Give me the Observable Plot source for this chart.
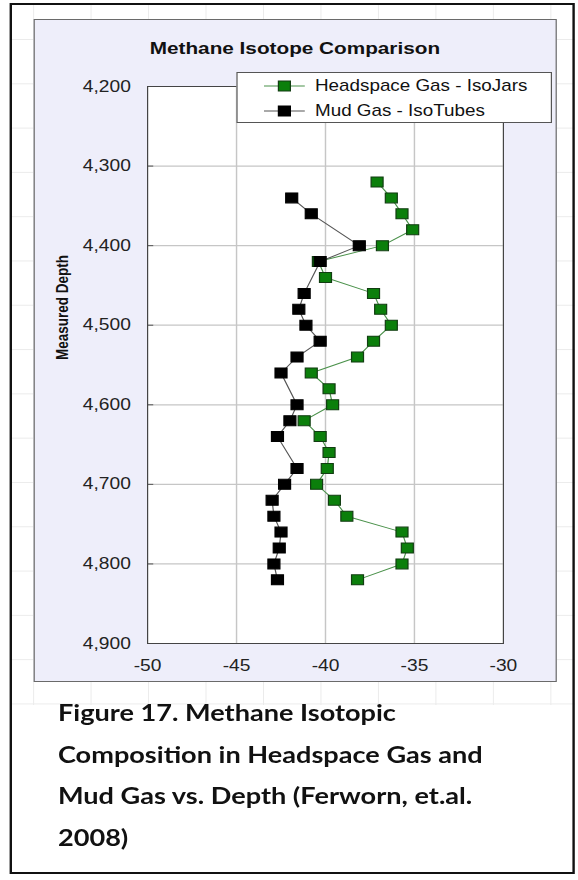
<!DOCTYPE html>
<html>
<head>
<meta charset="utf-8">
<script src="https://cdn.jsdelivr.net/npm/d3@7"></script>
<script src="https://cdn.jsdelivr.net/npm/@observablehq/plot@0.6"></script>
<style>
html, body { margin: 0; padding: 0; background: #fff; }
#page { position: absolute; left: 0; top: 0; width: 482px; height: 880px;
  transform: scaleX(1.2); transform-origin: 0 0;
  font-family: "Liberation Sans", Arial, sans-serif; }
#outer { position: absolute; left: 7.5px; top: 3px; width: 471px; height: 871px;
  border: 2px solid #111; box-sizing: border-box; }
#bggrid { position: absolute; left: 9.5px; top: 5px; width: 469px; height: 700px;
  background-image:
    linear-gradient(to bottom, #ebebeb 1px, transparent 1px),
    linear-gradient(to right, #ebebeb 1px, transparent 1px);
  background-size: 100% 44.3px, 47.9px 100%;
  background-position: 0 34px, 17.6px 0; }
#panel { position: absolute; left: 27.5px; top: 19px; width: 436.5px; height: 663px;
  background: #eeeefa; border: 1px solid #6a6a6a; box-sizing: border-box; }
#title { position: absolute; left: 27.5px; top: 40px; width: 436.5px; text-align: center;
  font-weight: bold; font-size: 17.3px; line-height: 16px; color: #111; }
#chart { position: absolute; left: 0; top: 0; }
#legend { position: absolute; left: 197px; top: 72px; width: 263px; height: 51px;
  background: #fff; border: 1px solid #555; box-sizing: border-box; }
#legend .row { position: absolute; left: 0; height: 20px; width: 100%; }
#legend .row svg { position: absolute; left: 21px; top: 0; }
#legend .row span { position: absolute; left: 64.5px; top: 2.3px; font-size: 15.7px; line-height: 15px;
  color: #111; white-space: nowrap; }
#caption { position: absolute; left: 48.3px; top: 692px; font-family: Lato, "Open Sans", sans-serif;
  font-weight: bold; font-size: 22.6px; line-height: 41.5px; color: #111; white-space: nowrap; }
</style>
</head>
<body>
<div id="page">
  <div id="bggrid"></div>
  <div id="outer"></div>
  <div id="panel"></div>
  <div id="title"></div>
  <div id="chart"></div>
  <div id="legend"></div>
  <div id="caption"></div>
</div>
<script>
// ---- data ----
const titleText = "Methane Isotope Comparison";
const yLabel = "Measured Depth";
const seriesNames = ["Headspace Gas - IsoJars", "Mud Gas - IsoTubes"];
const captionLines = [
  "Figure 17. Methane Isotopic",
  "Composition in Headspace Gas and",
  "Mud Gas vs. Depth (Ferworn, et.al.",
  "2008)"
];

const xTicks = [-50, -45, -40, -35, -30];
const yTicks = [4200, 4300, 4400, 4500, 4600, 4700, 4800, 4900];

const headDepth = [4320, 4340, 4360, 4380, 4400, 4420, 4440, 4460, 4480, 4500, 4520, 4540, 4560,
                   4580, 4600, 4620, 4640, 4660, 4680, 4700, 4720, 4740, 4760, 4780, 4800, 4820];
const headValue = [-37.1, -36.3, -35.7, -35.1, -36.8, -40.4, -40.0, -37.3, -36.9, -36.3, -37.3, -38.2, -40.8,
                   -39.8, -39.6, -41.2, -40.3, -39.8, -39.9, -40.5, -39.5, -38.8, -35.7, -35.4, -35.7, -38.2];

const mudDepth = [4340, 4360, 4400, 4420, 4460, 4480, 4500, 4520, 4540, 4560, 4600,
                  4620, 4640, 4680, 4700, 4720, 4740, 4760, 4780, 4800, 4820];
const mudValue = [-41.9, -40.8, -38.1, -40.3, -41.2, -41.5, -41.1, -40.3, -41.6, -42.5, -41.6,
                  -42.0, -42.7, -41.6, -42.3, -43.0, -42.9, -42.5, -42.6, -42.9, -42.7];

const colors = {
  headFill: "#0b7f0b", headStroke: "#123d12", headLine: "#4a914a",
  mudFill: "#000000", mudStroke: "#000000", mudLine: "#555555"
};

// ---- build tables ----
const head = headDepth.map((d, i) => ({depth: d, value: headValue[i]}));
const mud = mudDepth.map((d, i) => ({depth: d, value: mudValue[i]}));

document.getElementById("title").textContent = titleText;

const innerX = xTicks.slice(1, -1);
const innerY = yTicks.slice(1, -1);

const chart = Plot.plot({
  width: 482,
  height: 700,
  marginLeft: 122.5,
  marginRight: 63,
  marginTop: 86,
  marginBottom: 57,
  style: {background: "transparent", fontFamily: "Liberation Sans, Arial, sans-serif",
          fontSize: "16px", color: "#222", overflow: "visible"},
  x: {domain: [xTicks[0], xTicks[xTicks.length - 1]], label: null},
  y: {domain: [yTicks[0], yTicks[yTicks.length - 1]], reverse: true, label: null},
  marks: [
    Plot.frame({fill: "white", stroke: null}),
    Plot.gridX(innerX, {stroke: "#c6c6c6", strokeOpacity: 1, strokeWidth: 1.2}),
    Plot.gridY(innerY, {stroke: "#c6c6c6", strokeOpacity: 1, strokeWidth: 1.2}),
    Plot.ruleY(innerY, {x1: xTicks[0], x2: xTicks[0] + 0.35, stroke: "#555"}),
    Plot.axisX(xTicks, {tickSize: 0, tickPadding: 16, tickFormat: d => String(d), fill: "#222", fontSize: 16}),
    Plot.axisY(yTicks, {tickSize: 0, tickPadding: 14, tickFormat: d3.format(","), fill: "#222", fontSize: 16}),
    Plot.frame({stroke: "#444", strokeWidth: 1}),
    Plot.line(head, {x: "value", y: "depth", stroke: colors.headLine, strokeWidth: 1}),
    Plot.dot(head, {x: "value", y: "depth", symbol: "square", r: 5.64,
                    fill: colors.headFill, stroke: colors.headStroke, strokeWidth: 1}),
    Plot.line(mud, {x: "value", y: "depth", stroke: colors.mudLine, strokeWidth: 1}),
    Plot.dot(mud, {x: "value", y: "depth", symbol: "square", r: 5.64,
                   fill: colors.mudFill, stroke: colors.mudStroke, strokeWidth: 1}),
    Plot.text([yLabel], {frameAnchor: "left", dx: -71, dy: -5, rotate: -90,
                         fontWeight: "bold", fontSize: 13.5, fill: "#111"})
  ]
});
document.getElementById("chart").appendChild(chart);

// ---- legend ----
const legend = document.getElementById("legend");
const legendStyles = [
  {line: colors.headLine, fill: colors.headFill, stroke: colors.headStroke},
  {line: colors.mudLine, fill: colors.mudFill, stroke: colors.mudStroke}
];
seriesNames.forEach((name, i) => {
  const row = document.createElement("div");
  row.className = "row";
  row.style.top = (3 + i * 25) + "px";
  const s = legendStyles[i];
  row.innerHTML =
    `<svg width="36" height="20"><line x1="1" x2="35" y1="10" y2="10" stroke="${s.line}" stroke-width="1"/>` +
    `<rect x="13" y="5" width="10" height="10" fill="${s.fill}" stroke="${s.stroke}" stroke-width="1"/></svg>` +
    `<span></span>`;
  row.querySelector("span").textContent = name;
  legend.appendChild(row);
});

// ---- caption ----
const cap = document.getElementById("caption");
captionLines.forEach((t, i) => {
  const d = document.createElement("div");
  d.textContent = t;
  cap.appendChild(d);
});
</script>
</body>
</html>
